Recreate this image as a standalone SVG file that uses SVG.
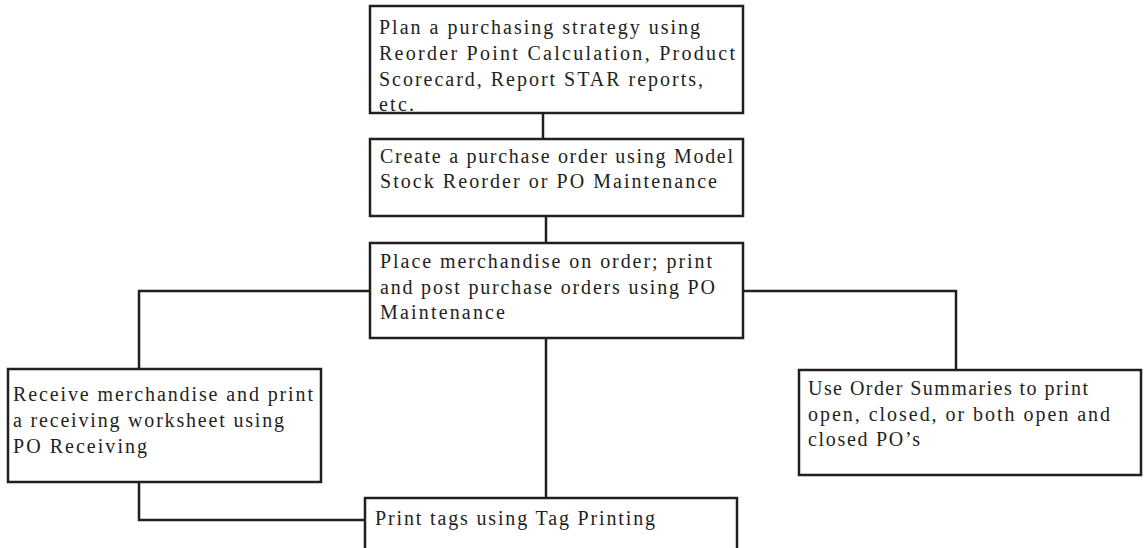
<svg xmlns="http://www.w3.org/2000/svg" width="1144" height="548" viewBox="0 0 1144 548">
<style>
.box{fill:#fff;stroke:#231f20;stroke-width:2.5}
.ln{fill:none;stroke:#231f20;stroke-width:2.5}
text{font-family:"Liberation Serif","Times New Roman",serif;font-size:20px;fill:#231f20}
</style>
<rect width="1144" height="548" fill="#fff"/>
<g id="connectors">
<line class="ln" x1="543" y1="113" x2="543" y2="140"/>
<line class="ln" x1="546" y1="216" x2="546" y2="243"/>
<polyline class="ln" points="370,291 139,291 139,369"/>
<polyline class="ln" points="743,291 956,291 956,370"/>
<line class="ln" x1="546" y1="338" x2="546" y2="498"/>
<polyline class="ln" points="139,482 139,520 365,520"/>
</g>
<g id="plan">
<rect class="box" x="370" y="6" width="373" height="107"/>
<text x="379" y="34" textLength="321" lengthAdjust="spacing">Plan a purchasing strategy using</text>
<text x="379" y="60" textLength="356" lengthAdjust="spacing">Reorder Point Calculation, Product</text>
<text x="379" y="86" textLength="324" lengthAdjust="spacing">Scorecard, Report STAR reports,</text>
<text x="379" y="111" textLength="35" lengthAdjust="spacing">etc.</text>
</g>
<g id="create">
<rect class="box" x="370" y="139" width="373" height="77"/>
<text x="380" y="163" textLength="353" lengthAdjust="spacing">Create a purchase order using Model</text>
<text x="380" y="188" textLength="337" lengthAdjust="spacing">Stock Reorder or PO Maintenance</text>
</g>
<g id="place">
<rect class="box" x="370" y="243" width="373" height="95"/>
<text x="380" y="268" textLength="332" lengthAdjust="spacing">Place merchandise on order; print</text>
<text x="380" y="294" textLength="335" lengthAdjust="spacing">and post purchase orders using PO</text>
<text x="380" y="319" textLength="125" lengthAdjust="spacing">Maintenance</text>
</g>
<g id="receive">
<rect class="box" x="8" y="369" width="313" height="113"/>
<text x="13" y="401" textLength="300" lengthAdjust="spacing">Receive merchandise and print</text>
<text x="13" y="427" textLength="271" lengthAdjust="spacing">a receiving worksheet using</text>
<text x="13" y="453" textLength="134" lengthAdjust="spacing">PO Receiving</text>
</g>
<g id="summaries">
<rect class="box" x="799" y="370" width="342" height="105"/>
<text x="808" y="395" textLength="280" lengthAdjust="spacing">Use Order Summaries to print</text>
<text x="808" y="421" textLength="302" lengthAdjust="spacing">open, closed, or both open and</text>
<text x="808" y="446" textLength="112" lengthAdjust="spacing">closed PO’s</text>
</g>
<g id="tags">
<rect class="box" x="365" y="498" width="372" height="60"/>
<text x="375" y="525" textLength="280" lengthAdjust="spacing">Print tags using Tag Printing</text>
</g>
</svg>
